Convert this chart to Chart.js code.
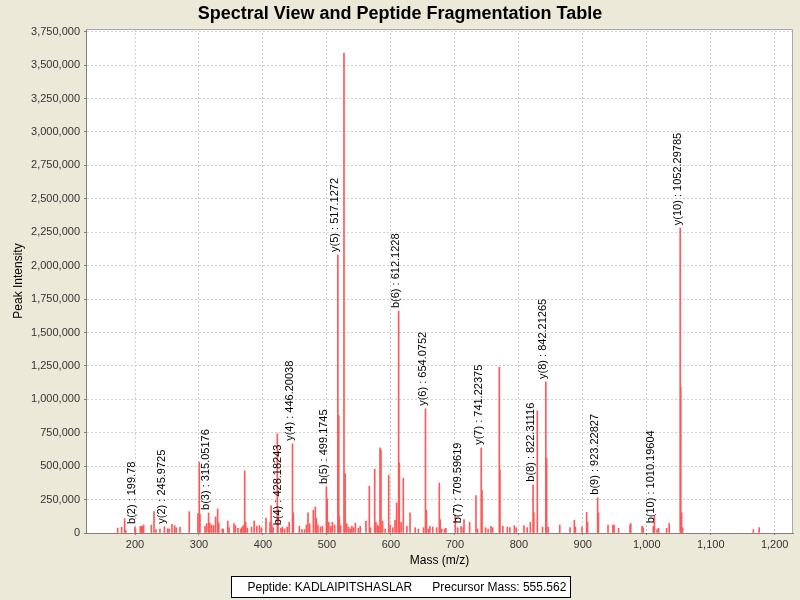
<!DOCTYPE html>
<html>
<head>
<meta charset="utf-8">
<script src="https://cdn.jsdelivr.net/npm/chart.js@4.4.0/dist/chart.umd.min.js"></script>
<style>
  html, body { margin: 0; padding: 0; background: #ECE9D8; }
  #wrap { width: 800px; height: 600px; }
</style>
</head>
<body>
<div id="wrap"><canvas id="c" width="800" height="600"></canvas></div>
<script>
// ---- data ----
const chartTitle = "Spectral View and Peptide Fragmentation Table";
const xAxisTitle = "Mass (m/z)";
const yAxisTitle = "Peak Intensity";
const peptideText = "Peptide: KADLAIPITSHASLAR";
const precursorText = "Precursor Mass: 555.562";

const masses = [
  172.9, 179.1, 183.8, 185.5, 199.8, 200.8, 208.3, 210.5, 212.0, 213.6,
  225.5, 229.7, 232.8, 239.0, 246.0, 251.0, 253.5, 257.8, 262.0, 264.5,
  270.3, 284.8, 298.4, 300.5, 301.5, 309.5, 312.0, 315.05, 317.0, 320.0,
  323.0, 326.0, 329.2, 331.0, 336.5, 338.0, 345.0, 347.0, 354.7, 357.0,
  361.0, 365.2, 367.0, 369.0, 371.5, 373.0, 375.5, 382.2, 386.3, 390.5,
  394.6, 397.5, 404.7, 411.0, 412.8, 414.0, 416.0, 422.5, 423.5, 428.18,
  430.5, 434.0, 438.0, 441.0, 446.2, 447.5, 456.9, 461.0, 465.0, 468.0,
  470.4, 473.0, 478.8, 481.9, 483.5, 486.0, 490.0, 493.0, 499.17, 500.5,
  503.0, 506.0, 508.5, 512.0, 517.13, 518.5, 519.5, 521.5, 526.7, 528.5,
  531.0, 534.0, 536.5, 539.0, 541.5, 544.5, 549.0, 552.0, 561.0, 566.3,
  568.0, 574.7, 576.5, 579.0, 581.0, 583.0, 584.5, 587.0, 591.0, 596.6,
  599.0, 603.0, 606.5, 609.0, 612.12, 613.2, 616.0, 619.4, 625.0, 629.9,
  638.0, 643.0, 651.0, 654.08, 655.5, 658.5, 661.0, 665.5, 671.5, 675.7,
  677.0, 679.5, 684.0, 686.0, 700.7, 704.5, 709.6, 713.0, 714.3, 723.0,
  733.0, 735.5, 741.22, 742.5, 748.0, 752.0, 756.5, 759.0, 769.5, 770.5,
  775.0, 782.0, 786.0, 793.0, 796.0, 808.0, 813.0, 818.0, 822.31, 823.5,
  828.9, 837.0, 842.21, 843.5, 846.0, 864.0, 880.0, 886.8, 888.5, 898.8,
  906.0, 907.5, 923.23, 924.5, 939.4, 947.0, 949.0, 956.0, 973.8, 975.0,
  992.6, 994.5, 1010.2, 1012.0, 1016.0, 1018.5, 1031.0, 1035.0, 1052.3, 1053.2,
  1054.5, 1056.0, 1166.6, 1175.7
];
const intensities = [
  37000, 45000, 107000, 20000, 45000, 30000, 50000, 50000, 48000, 60000,
  60000, 160000, 25000, 30000, 47000, 32000, 30000, 65000, 55000, 40000,
  45000, 160000, 145000, 530000, 140000, 50000, 70000, 150000, 75000, 60000,
  55000, 120000, 180000, 75000, 30000, 30000, 90000, 40000, 70000, 55000,
  35000, 30000, 40000, 55000, 465000, 80000, 38000, 45000, 90000, 50000,
  55000, 40000, 112000, 80000, 204000, 60000, 40000, 742000, 150000, 35000,
  45000, 30000, 45000, 80000, 667000, 150000, 50000, 25000, 25000, 60000,
  150000, 70000, 170000, 195000, 110000, 60000, 45000, 50000, 344000, 255000,
  80000, 50000, 80000, 60000, 2080000, 880000, 120000, 55000, 3590000, 445000,
  70000, 45000, 30000, 50000, 40000, 75000, 35000, 50000, 90000, 350000,
  40000, 478000, 80000, 60000, 50000, 637000, 620000, 90000, 30000, 432000,
  60000, 40000, 95000, 225000, 1660000, 523000, 80000, 410000, 50000, 150000,
  40000, 30000, 40000, 929000, 170000, 30000, 50000, 45000, 40000, 374000,
  100000, 30000, 30000, 35000, 135000, 40000, 50000, 40000, 100000, 80000,
  280000, 30000, 637000, 320000, 40000, 30000, 50000, 40000, 1240000, 470000,
  50000, 45000, 40000, 55000, 40000, 55000, 40000, 80000, 361000, 150000,
  914000, 45000, 1130000, 560000, 45000, 60000, 40000, 95000, 45000, 45000,
  155000, 80000, 264000, 150000, 60000, 60000, 60000, 35000, 60000, 70000,
  50000, 40000, 50000, 125000, 25000, 35000, 35000, 70000, 2280000, 1090000,
  150000, 40000, 25000, 40000
];

const annLabels = [
  "b(2) : 199.78", "y(2) : 245.9725", "b(3) : 315.05176", "b(4) : 428.18243",
  "y(4) : 446.20038", "b(5) : 499.1745", "y(5) : 517.1272", "b(6) : 612.1228",
  "y(6) : 654.0752", "b(7) : 709.59619", "y(7) : 741.22375", "b(8) : 822.31116",
  "y(8) : 842.21265", "b(9) : 923.22827", "b(10) : 1010.19604", "y(10) : 1052.29785"
];
const annMasses = [
  199.8, 246.0, 315.05, 428.18, 446.2, 499.17, 517.13, 612.12,
  654.08, 709.6, 741.22, 822.31, 842.21, 923.23, 1010.2, 1052.3
];
const annIntensities = [
  45000, 47000, 150000, 35000, 667000, 344000, 2080000, 1660000,
  929000, 50000, 637000, 361000, 1130000, 264000, 50000, 2280000
];

const xTicks = [200, 300, 400, 500, 600, 700, 800, 900, 1000, 1100, 1200];
const yTicks = [0, 250000, 500000, 750000, 1000000, 1250000, 1500000, 1750000,
  2000000, 2250000, 2500000, 2750000, 3000000, 3250000, 3500000, 3750000];
const xMin = 123.4, xMax = 1228.6;
const yMin = 0, yMax = 3770000;

// ---- chart ----
const FONT = "'Liberation Sans', Arial, Helvetica, sans-serif";
Chart.defaults.font.family = FONT;

const plotBg = {
  id: 'plotBg',
  beforeDraw(chart) {
    const {ctx, chartArea: a} = chart;
    ctx.save();
    ctx.fillStyle = '#ffffff';
    ctx.fillRect(a.left, a.top, a.right - a.left, a.bottom - a.top);
    ctx.restore();
  },
  afterDraw(chart) {
    const {ctx, chartArea: a} = chart;
    ctx.save();
    ctx.strokeStyle = '#a8a8a8';
    ctx.lineWidth = 1;
    ctx.beginPath();
    ctx.moveTo(a.left, a.top + 0.5);
    ctx.lineTo(a.right - 0.5, a.top + 0.5);
    ctx.lineTo(a.right - 0.5, a.bottom);
    ctx.stroke();
    ctx.restore();
  }
};

const annotations = {
  id: 'annotations',
  afterDatasetsDraw(chart) {
    const {ctx, scales} = chart;
    ctx.save();
    ctx.font = "11px " + FONT;
    ctx.fillStyle = '#000000';
    ctx.textAlign = 'left';
    ctx.textBaseline = 'alphabetic';
    for (let i = 0; i < annLabels.length; i++) {
      const x = scales.x.getPixelForValue(annMasses[i]);
      const y = scales.y.getPixelForValue(annIntensities[i]) - 3;
      ctx.save();
      ctx.translate(x + 0.5, y);
      ctx.rotate(-Math.PI / 2);
      ctx.fillText(annLabels[i], 0, 0);
      ctx.restore();
    }
    ctx.restore();
  }
};

const infoBox = {
  id: 'infoBox',
  afterDraw(chart) {
    const {ctx, width} = chart;
    ctx.save();
    ctx.font = "12px " + FONT;
    const w1 = ctx.measureText(peptideText).width;
    const w2 = ctx.measureText(precursorText).width;
    const padL = 16, gap = 20, padR = 4;
    const bw = Math.round(padL + w1 + gap + w2 + padR);
    const bx = Math.round(width / 2 - bw / 2) + 0.5;
    const by = 576.5, bh = 21;
    ctx.fillStyle = '#ffffff';
    ctx.fillRect(bx, by, bw, bh);
    ctx.strokeStyle = '#000000';
    ctx.lineWidth = 1;
    ctx.strokeRect(bx, by, bw, bh);
    ctx.fillStyle = '#000000';
    ctx.textBaseline = 'middle';
    ctx.textAlign = 'left';
    ctx.fillText(peptideText, bx + padL, by + bh / 2 + 0.5);
    ctx.fillText(precursorText, bx + padL + w1 + gap, by + bh / 2 + 0.5);
    ctx.restore();
  }
};

const fmt = v => Number(v).toLocaleString('en-US');

new Chart(document.getElementById('c'), {
  type: 'bar',
  data: {
    datasets: [{
      data: masses.map((m, i) => ({x: m, y: intensities[i]})),
      backgroundColor: '#ff5858',
      borderWidth: 0,
      barThickness: 1,
      grouped: false
    }]
  },
  options: {
    responsive: false,
    animation: false,
    devicePixelRatio: 1,
    layout: { padding: { left: 7, right: 7, top: 0, bottom: 28 } },
    plugins: {
      legend: { display: false },
      tooltip: { enabled: false },
      title: {
        display: true,
        text: chartTitle,
        color: '#000000',
        font: { size: 18, weight: 'bold', family: FONT },
        padding: { top: 3, bottom: 4.4 }
      }
    },
    scales: {
      x: {
        type: 'linear',
        min: xMin, max: xMax,
        offset: false,
        afterBuildTicks(s) { s.ticks = xTicks.map(v => ({ value: v })); },
        ticks: {
          autoSkip: false, maxRotation: 0, color: '#333333', padding: 3,
          font: { size: 11, family: FONT },
          callback: fmt
        },
        grid: { color: '#d0d0d0', tickColor: '#808080', tickLength: 2, offset: false },
        border: { color: '#808080', dash: [2, 2] },
        title: {
          display: true, text: xAxisTitle, color: '#000000',
          font: { size: 12, family: FONT }, padding: { top: 4, bottom: 4 }
        },
        afterFit(s) { s.height = 39; }
      },
      y: {
        min: yMin, max: yMax,
        afterBuildTicks(s) { s.ticks = yTicks.map(v => ({ value: v })); },
        ticks: {
          color: '#333333', padding: 4,
          font: { size: 11, family: FONT },
          callback: fmt
        },
        grid: { color: '#d0d0d0', tickColor: '#808080', tickLength: 2 },
        border: { color: '#808080', dash: [2, 2] },
        title: {
          display: true, text: yAxisTitle, color: '#000000',
          font: { size: 12, family: FONT }, padding: { top: 4, bottom: 4 }
        },
        afterFit(s) { s.width = 79; }
      }
    }
  },
  plugins: [plotBg, annotations, infoBox]
});
</script>
</body>
</html>
